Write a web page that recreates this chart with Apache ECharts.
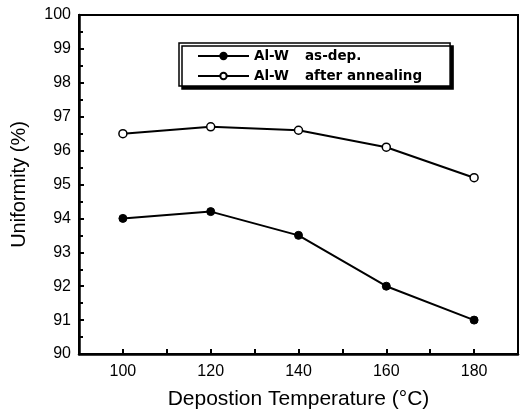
<!DOCTYPE html>
<html>
<head>
<meta charset="utf-8">
<script src="https://cdn.jsdelivr.net/npm/echarts@6/dist/echarts.min.js"></script>
<style>html,body{margin:0;padding:0;background:#fff;}#c{width:521px;height:415px;}</style>
</head>
<body>
<div id="c"></div>
<script>
var temps = [100, 120, 140, 160, 180];
var asDep = [94.0, 94.2, 93.5, 92.0, 91.0];
var afterAnneal = [96.5, 96.7, 96.6, 96.1, 95.2];
var seriesNames = ['Al-W as-dep.', 'Al-W after annealing'];
var xLabels = [100, 120, 140, 160, 180];

function pairs(xs, ys) { return xs.map(function (x, i) { return [x, ys[i]]; }); }

var chart = echarts.init(document.getElementById('c'), null, {renderer: 'canvas'});
chart.setOption({
  animation: false,
  backgroundColor: '#fff',
  grid: {left: 79, top: 15, width: 441, height: 339, show: true, borderColor: '#000', borderWidth: 2},
  legend: {
    orient: 'vertical', left: 179, top: 43,
    padding: [6, 28, 3, 18], itemGap: 6,
    itemWidth: 51, itemHeight: 8,
    backgroundColor: '#fff', borderColor: '#000', borderWidth: 1.5,
    shadowColor: '#000', shadowBlur: 0, shadowOffsetX: 3, shadowOffsetY: 3,
    data: seriesNames,
    formatter: function (n) { var p = n.split(' '); return '{a|' + p[0] + '}{b|' + p.slice(1).join(' ') + '}'; },
    textStyle: {
      color: '#000', fontFamily: 'DejaVu Sans', fontWeight: 'bold', fontSize: 13,
      rich: {
        a: {width: 51, height: 15, fontFamily: 'DejaVu Sans', fontWeight: 'bold', fontSize: 13.5, color: '#000'},
        b: {height: 15, fontFamily: 'DejaVu Sans', fontWeight: 'bold', fontSize: 13.5, color: '#000'}
      }
    }
  },
  xAxis: {
    type: 'value', min: 90, max: 190, interval: 10,
    name: 'Depostion Temperature (°C)', nameLocation: 'middle', nameGap: 35,
    nameTextStyle: {fontFamily: 'Liberation Sans', fontSize: 21, color: '#000'},
    axisLine: {lineStyle: {color: '#000', width: 2.5}},
    axisTick: {inside: true, length: 5, lineStyle: {color: '#000', width: 2}},
    axisLabel: {
      margin: 10, color: '#000', fontFamily: 'Liberation Sans', fontSize: 16,
      formatter: function (v) { return xLabels.indexOf(v) >= 0 ? String(v) : ''; }
    },
    splitLine: {show: false}
  },
  yAxis: {
    type: 'value', min: 90, max: 100, interval: 1,
    name: 'Uniformity (%)', nameLocation: 'middle', nameGap: 50,
    nameTextStyle: {fontFamily: 'Liberation Sans', fontSize: 20, color: '#000'},
    axisLine: {lineStyle: {color: '#000', width: 2.5}},
    axisTick: {inside: true, length: 5, lineStyle: {color: '#000', width: 2}},
    minorTick: {show: true, splitNumber: 2, length: 4, lineStyle: {color: '#000', width: 2}},
    axisLabel: {margin: 8, color: '#000', fontFamily: 'Liberation Sans', fontSize: 16},
    splitLine: {show: false}
  },
  series: [
    {
      name: seriesNames[0], type: 'line', data: pairs(temps, asDep),
      symbol: 'circle', symbolSize: 8,
      lineStyle: {color: '#000', width: 2},
      itemStyle: {color: '#000', borderColor: '#000', borderWidth: 1}
    },
    {
      name: seriesNames[1], type: 'line', data: pairs(temps, afterAnneal),
      symbol: 'circle', symbolSize: 8,
      lineStyle: {color: '#000', width: 2},
      itemStyle: {color: '#fff', borderColor: '#000', borderWidth: 1.5}
    }
  ]
});
</script>
</body>
</html>
